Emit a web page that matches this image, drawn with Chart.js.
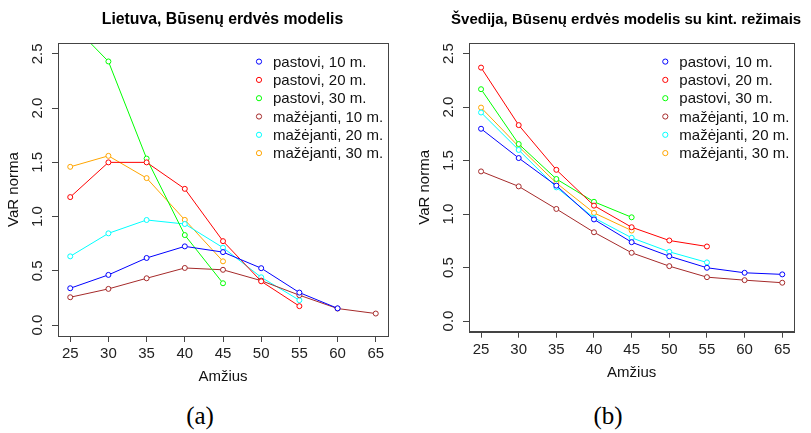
<!DOCTYPE html>
<html>
<head>
<meta charset="utf-8">
<script src="https://cdn.jsdelivr.net/npm/chart.js@4.4.1/dist/chart.umd.min.js"></script>
<style>
  body { margin: 0; background: #fff; }
  #wrap { position: relative; width: 811px; height: 433px; overflow: hidden; }
  canvas { position: absolute; top: 0; }
  .cap { position: absolute; top: 402px; width: 60px; text-align: center;
         font-family: "Liberation Serif", "Times New Roman", serif; font-size: 25px; color: #000; }
</style>
</head>
<body>
<div id="wrap">
  <canvas id="chartA" width="405" height="395" style="left:0px"></canvas>
  <canvas id="chartB" width="400" height="395" style="left:411px"></canvas>
  <div class="cap" style="left:170px">(a)</div>
  <div class="cap" style="left:578px">(b)</div>
</div>
<script>
// amžius (x asis)
const ages = [25, 30, 35, 40, 45, 50, 55, 60, 65];
const yTicks = [0, 0.5, 1, 1.5, 2, 2.5];
const yTickLabels = ["0.0", "0.5", "1.0", "1.5", "2.0", "2.5"];

const seriesNames = ["pastovi, 10 m.", "pastovi, 20 m.", "pastovi, 30 m.",
                     "mažėjanti, 10 m.", "mažėjanti, 20 m.", "mažėjanti, 30 m."];
const seriesColors = ["#0000FF", "#FF0000", "#00FF00", "#A52A2A", "#00FFFF", "#FFA500"];

// (a) Lietuva
const ltPastovi10 = [0.34, 0.463, 0.619, 0.726, 0.673, 0.525, 0.30, 0.155, null];
const ltPastovi20 = [1.18, 1.50, 1.50, 1.256, 0.774, 0.404, 0.175, null, null];
const ltPastovi30 = [2.79, 2.43, 1.535, 0.83, 0.386, null, null, null, null];
const ltMazejanti10 = [0.257, 0.334, 0.432, 0.527, 0.51, 0.41, 0.276, 0.153, 0.107];
const ltMazejanti20 = [0.634, 0.846, 0.969, 0.932, 0.714, 0.441, 0.23, null, null];
const ltMazejanti30 = [1.459, 1.56, 1.355, 0.97, 0.588, null, null, null, null];

// (b) Švedija
const seP10 = [1.798, 1.524, 1.266, 0.95, 0.737, 0.606, 0.498, 0.451, 0.436];
const seP20 = [2.37, 1.832, 1.414, 1.079, 0.877, 0.753, 0.697, null, null];
const seP30 = [2.168, 1.655, 1.328, 1.115, 0.97, null, null, null, null];
const seM10 = [1.399, 1.259, 1.048, 0.83, 0.638, 0.513, 0.41, 0.382, 0.358];
const seM20 = [1.95, 1.60, 1.25, 0.965, 0.778, 0.647, 0.548, null, null];
const seM30 = [1.996, 1.632, 1.291, 1.011, 0.846, null, null, null, null];

const FONT = "'Liberation Sans', Arial, sans-serif";

// R stiliaus pavadinimas, rėmelis, pasukti y ašies skaičiai ir legenda grafiko viduje
const rStyle = {
  id: "rStyle",
  afterDraw(chart, args, opts) {
    const ctx = chart.ctx;
    const a = chart.chartArea;
    ctx.save();

    ctx.fillStyle = "#000";
    ctx.font = "bold " + opts.titleSize + "px " + FONT;
    ctx.textAlign = "center";
    ctx.textBaseline = "middle";
    ctx.fillText(opts.title, (a.left + a.right) / 2 + opts.titleShift, 19.5);

    ctx.strokeStyle = "#444";
    ctx.lineWidth = 1;
    ctx.strokeRect(Math.round(a.left) + 0.5, Math.round(a.top) + 0.5,
                   Math.round(a.right - a.left), Math.round(a.bottom - a.top));

    const ys = chart.scales.y;
    ctx.fillStyle = "#222";
    ctx.font = "15px " + FONT;
    yTicks.forEach((v, i) => {
      ctx.save();
      ctx.translate(a.left - 20, ys.getPixelForValue(v));
      ctx.rotate(-Math.PI / 2);
      ctx.fillText(yTickLabels[i], 0, 0);
      ctx.restore();
    });

    ctx.textAlign = "left";
    chart.data.datasets.forEach((ds, i) => {
      const y = a.top + 18.6 + i * 18.3;
      ctx.beginPath();
      ctx.arc(a.right - 129, y, 2.6, 0, Math.PI * 2);
      ctx.strokeStyle = ds.borderColor;
      ctx.stroke();
      ctx.fillStyle = "#111";
      ctx.fillText(ds.label, a.right - 115, y + 1);
    });
    ctx.restore();
  }
};

function makeChart(id, title, titleSize, titleShift, series, padRight, padBottom) {
  const datasets = series.map((vals, i) => ({
    label: seriesNames[i],
    data: vals.map((v, j) => ({ x: ages[j], y: v })),
    borderColor: seriesColors[i],
    backgroundColor: "#fff",
    borderWidth: 1,
    pointRadius: 2.5,
    pointBorderWidth: 1,
    pointBackgroundColor: "#fff",
    spanGaps: false
  }));

  return new Chart(document.getElementById(id), {
    type: "line",
    data: { datasets },
    options: {
      responsive: false,
      animation: false,
      layout: { padding: { left: 0, top: 43, right: padRight, bottom: padBottom } },
      plugins: {
        legend: { display: false },
        tooltip: { enabled: false },
        title: { display: false },
        rStyle: { title, titleSize, titleShift }
      },
      scales: {
        x: {
          type: "linear",
          min: 23.4,
          max: 66.6,
          afterBuildTicks: (s) => { s.ticks = ages.map((v) => ({ value: v })); },
          afterFit: (s) => { s.height = 50; },
          ticks: { color: "#222", font: { family: FONT, size: 15 }, padding: 3,
                   autoSkip: false, maxRotation: 0, callback: (v) => String(v) },
          grid: { drawOnChartArea: false, tickLength: 6, color: "#444" },
          border: { color: "#444" },
          title: { display: true, text: "Amžius", color: "#111",
                   font: { family: FONT, size: 15 }, padding: { top: 0, bottom: 0 } }
        },
        y: {
          min: -0.1,
          max: 2.6,
          afterBuildTicks: (s) => { s.ticks = yTicks.map((v) => ({ value: v })); },
          afterFit: (s) => { s.width = 58; },
          ticks: { display: false },
          grid: { drawOnChartArea: false, tickLength: 6, color: "#444" },
          border: { color: "#444" },
          title: { display: true, text: "VaR norma", color: "#111",
                   font: { family: FONT, size: 15 }, padding: { top: 5, bottom: 0 } }
        }
      }
    },
    plugins: [rStyle]
  });
}

makeChart("chartA", "Lietuva, Būsenų erdvės modelis", 15.8, -0.5,
  [ltPastovi10, ltPastovi20, ltPastovi30, ltMazejanti10, ltMazejanti20, ltMazejanti30], 17, 9);
makeChart("chartB", "Švedija, Būsenų erdvės modelis su kint. režimais", 15, -5.5,
  [seP10, seP20, seP30, seM10, seM20, seM30], 16.7, 13.3);
</script>
</body>
</html>
